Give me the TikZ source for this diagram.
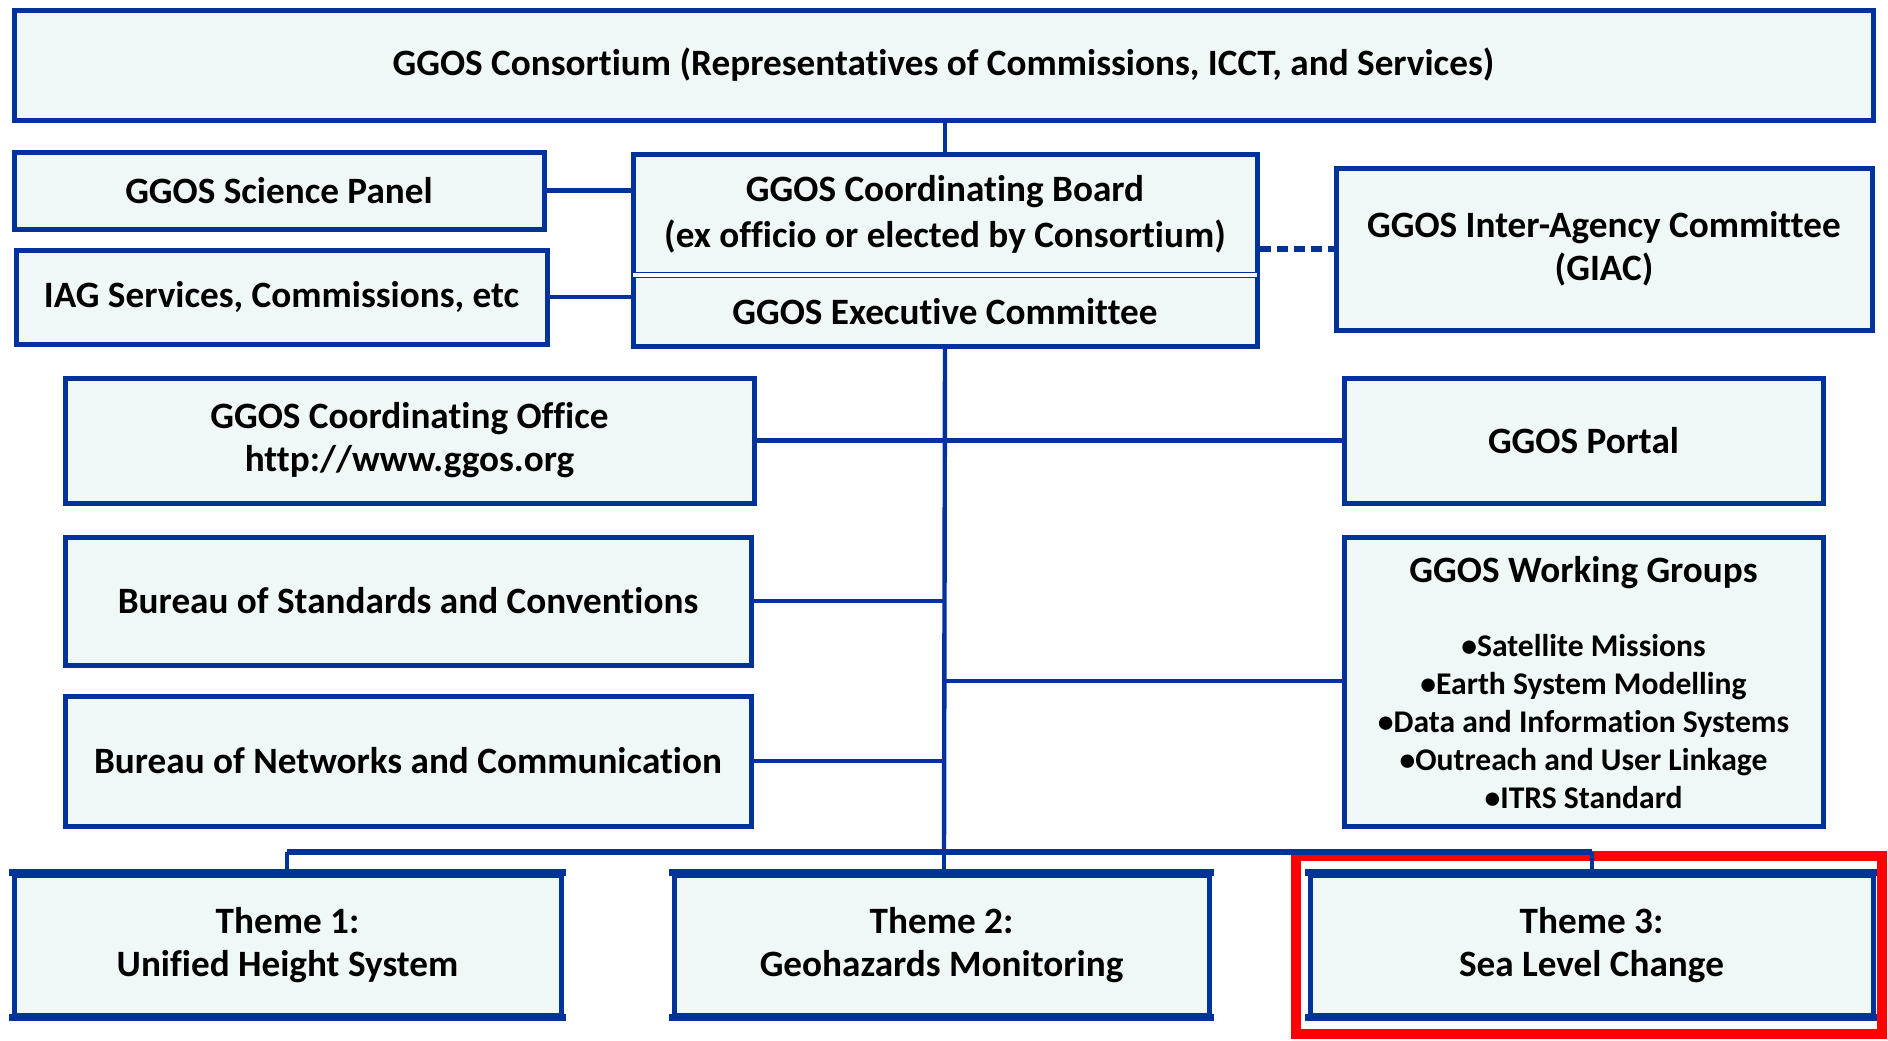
\documentclass[tikz,border=0pt]{standalone}
\usepackage{fontspec}
\setmainfont{Carlito}[Ligatures=NoCommon]
\definecolor{ggblue}{RGB}{0,51,153}
\definecolor{ggfill}{RGB}{239,248,246}
\newcommand{\wgsmall}{\fontsize{15.8}{19}\selectfont}
\begin{document}
\begin{tikzpicture}[x=0.5pt,y=-0.5pt,
  box/.style={draw=ggblue, line width=2.5pt, fill=ggfill, align=center, inner sep=0pt,
    font=\bfseries\fontsize{18.6}{21.5}\selectfont},
  txt/.style={align=center, inner sep=0pt, font=\bfseries\fontsize{18.6}{21.5}\selectfont},
  link/.style={draw=ggblue, line width=2.2pt},
  edge3d/.style={draw=ggblue, line width=3.5pt},
  dlink/.style={draw=ggblue, line width=2.6pt, dash pattern=on 5.5pt off 3pt}]
\useasboundingbox (0,0) rectangle (1888,1040);
% boxes
\node[box, minimum width=929.5pt, minimum height=55pt] (cons) at (943.5,65) {GGOS Consortium (Representatives of Commissions, ICCT, and Services)};
\node[box, minimum width=265pt, minimum height=38.5pt] (sci) at (279,190.5) {GGOS Science Panel};
\node[box, minimum width=265.5pt, minimum height=47pt] (iag) at (281.5,297) {IAG Services, Commissions, etc};
\node[box, minimum width=312pt, minimum height=96pt] (board) at (945,250) {};
\node[txt, font=\bfseries\fontsize{18.6}{23}\selectfont] (boardtxt) at (945,214) {GGOS Coordinating Board\\(ex officio or elected by Consortium)};
\node[txt] (exectxt) at (945,312) {GGOS Executive Committee};
\coordinate (divl) at (633,275);
\coordinate (divr) at (1257,275);
\draw[ggblue, line width=0.9pt, double=white, double distance=1.6pt] (divl) -- (divr);
\node[box, minimum width=268pt, minimum height=81pt] (giac) at (1604,249) {GGOS Inter-Agency Committee\\(GIAC)};
\node[box, minimum width=344.5pt, minimum height=62.5pt] (office) at (409.5,440.5) {GGOS Coordinating Office\\http://www.ggos.org};
\node[box, minimum width=239.5pt, minimum height=62.5pt] (portal) at (1583.5,440.5) {GGOS Portal};
\node[box, minimum width=343pt, minimum height=64pt] (bstd) at (408,601) {Bureau of Standards and Conventions};
\node[box, minimum width=239.5pt, minimum height=144.5pt] (wg) at (1583.5,681.5) {};
\node[txt] (wgtitle) at (1583.5,573) {GGOS Working Groups};
\node[txt, font=\bfseries\wgsmall] (wglist) at (1583.5,722) {•Satellite Missions\\•Earth System Modelling\\•Data and Information Systems\\•Outreach and User Linkage\\•ITRS Standard};
\node[box, minimum width=343pt, minimum height=65pt] (bnet) at (408,761) {Bureau of Networks and Communication};
\node[box, minimum width=273.5pt, minimum height=70pt] (t1) at (287.5,945) {Theme 1:\\Unified Height System};
\node[box, minimum width=267.5pt, minimum height=70pt] (t2) at (941.5,945) {Theme 2:\\Geohazards Monitoring};
\node[box, minimum width=281.5pt, minimum height=70pt] (t3) at (1591.5,945) {Theme 3:\\Sea Level Change};
\foreach \t in {t1,t2,t3}{
  \draw[edge3d] ([xshift=-1.25pt]\t.north west) -- ([xshift=1.25pt]\t.north east);
  \draw[edge3d] ([xshift=-1.25pt]\t.south west) -- ([xshift=1.25pt]\t.south east);
}
\node[draw=red, line width=5pt, minimum width=293pt, minimum height=89pt, inner sep=0pt] (hl) at (1589,945) {};
% connectors
\coordinate (tr1) at (944,852);
\coordinate (trwg) at (944,681);
\coordinate (trstd) at (944,601);
\coordinate (trnet) at (944,761);
\coordinate (b1) at (287,852);
\coordinate (b3) at (1592,852);
\draw[link] (cons.south -| board.north) -- (board.north);
\draw[link] (board.south) -- (tr1);
\draw[link, line width=3pt] (b1) -- (b3);
\draw[link] (b1) -- (b1 |- t1.north);
\draw[link] (tr1) -- (tr1 |- t2.north);
\draw[link] (b3) -- (b3 |- t3.north);
\draw[link] (sci.east) -- (sci.east -| board.west);
\draw[link] (iag.east) -- (iag.east -| board.west);
\draw[dlink] (board.east |- giac.west) -- (giac.west);
\draw[link] (office.east) -- (portal.west);
\draw[link] (bstd.east) -- (trstd);
\draw[link] (trwg) -- (trwg -| wg.west);
\draw[link] (bnet.east) -- (trnet);
\end{tikzpicture}
\end{document}
